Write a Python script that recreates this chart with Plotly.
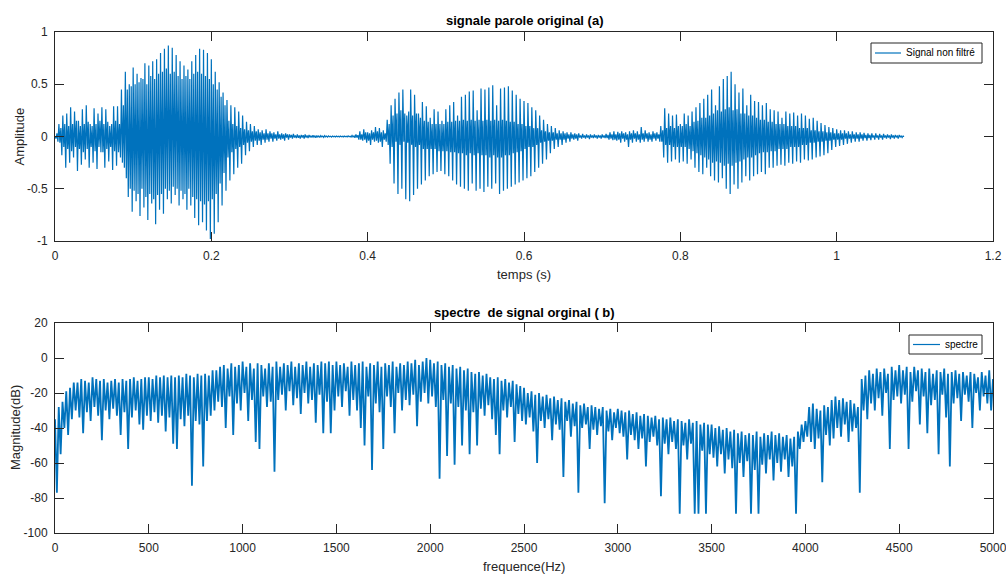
import numpy as np
import plotly.graph_objects as go

# ---------------- speech waveform (amplitude samples, 800 samples/s) ----------------
fs_wave = 800

vowel1 = [0.0, -0.02, 0.03, -0.05, 0.12, -0.06, 0.08, -0.18, 0.2, -0.1, 0.12, -0.3,
          0.22, -0.12, 0.1, -0.25, 0.28, -0.14, 0.12, -0.2, 0.24, -0.1, 0.15, -0.33,
          0.15, -0.12, 0.1, -0.27, 0.26, -0.15, 0.12, -0.22, 0.3, -0.12, 0.14, -0.3,
          0.12, -0.1, 0.1, -0.25, 0.27, -0.14, 0.12, -0.31, 0.22, -0.1, 0.15, -0.15,
          0.28, -0.15, 0.12, -0.3, 0.26, -0.12, 0.14, -0.24, 0.1, -0.1, 0.12, -0.32,
          0.29, -0.14, 0.15, -0.28, 0.29, -0.15, 0.12, -0.2]
vowel1_loud = [0.45, -0.25, 0.3, -0.3, 0.62, -0.4, 0.45, -0.58, 0.5, -0.5, 0.48, -0.72,
               0.66, -0.52, 0.5, -0.62, 0.6, -0.55, 0.52, -0.76, 0.56, -0.5, 0.55, -0.68,
               0.7, -0.58, 0.5, -0.8, 0.68, -0.55, 0.58, -0.64, 0.72, -0.6, 0.55, -0.84,
               0.74, -0.56, 0.6, -0.7, 0.8, -0.55, 0.62, -0.74, 0.84, -0.5, 0.65, -0.6,
               0.87, -0.52, 0.6, -0.64, 0.85, -0.48, 0.62, -0.56, 0.78, -0.5, 0.58, -0.66,
               0.72, -0.52, 0.55, -0.6, 0.68, -0.55, 0.58, -0.7, 0.64, -0.5, 0.55, -0.66,
               0.72, -0.58, 0.6, -0.78, 0.78, -0.6, 0.62, -0.85, 0.84, -0.62, 0.6, -0.82,
               0.83, -0.65, 0.58, -0.9, 0.8, -0.62, 0.55, -0.98, 0.74, -0.6, 0.5, -0.93,
               0.62, -0.55, 0.45, -0.82, 0.52, -0.45, 0.38, -0.66, 0.42, -0.35, 0.3, -0.52]
decay1 = [0.35, -0.2, 0.15, -0.42, 0.3, -0.15, 0.12, -0.36, 0.28, -0.12, 0.1, -0.3,
          0.24, -0.1, 0.08, -0.26, 0.2, -0.08, 0.07, -0.18, 0.14, -0.06, 0.06, -0.14,
          0.12, -0.05, 0.05, -0.1, 0.1, -0.04, 0.05, -0.08, 0.07, -0.04, 0.04, -0.08,
          0.06, -0.03, 0.03, -0.06, 0.07, -0.03, 0.03, -0.05, 0.05, -0.02, 0.03, -0.05,
          0.04, -0.02, 0.02, -0.04, 0.05, -0.02, 0.02, -0.03, 0.03, -0.02, 0.02, -0.04,
          0.03, -0.01, 0.02, -0.03]
silence = [0.02, -0.01, 0.015, -0.02, 0.025, -0.01, 0.01, -0.015, 0.02, -0.012, 0.01, -0.02,
           0.015, -0.01, 0.012, -0.02, 0.02, -0.01, 0.01, -0.015, 0.015, -0.008, 0.008, -0.01,
           0.012, -0.006, 0.006, -0.012, 0.01, -0.005, 0.005, -0.01, 0.008, -0.004, 0.004, -0.008,
           0.008, -0.004, 0.004, -0.006, 0.006, -0.003, 0.003, -0.006, 0.005, -0.003, 0.003, -0.005,
           0.005, -0.002, 0.002, -0.004, 0.004, -0.002, 0.002, -0.005, 0.005, -0.002, 0.002, -0.004,
           0.006, -0.003, 0.003, -0.005, 0.01, -0.005, 0.006, -0.012, 0.02, -0.01, 0.012, -0.03]
burst = [0.05, -0.03, 0.02, -0.04, 0.07, -0.03, 0.04, -0.06, 0.04, -0.04, 0.03, -0.08,
         0.06, -0.03, 0.04, -0.05, 0.09, -0.04, 0.05, -0.06, 0.08, -0.05, 0.04, -0.1,
         0.06, -0.03, 0.03, -0.05]
vowel2 = [0.16, -0.08, 0.12, -0.26, 0.3, -0.1, 0.2, -0.45, 0.36, -0.05, 0.22, -0.55,
          0.42, -0.08, 0.25, -0.5, 0.45, -0.05, 0.22, -0.6, 0.2, -0.06, 0.24, -0.62,
          0.45, -0.08, 0.2, -0.56, 0.4, -0.1, 0.22, -0.5, 0.22, -0.08, 0.18, -0.46,
          0.33, -0.12, 0.15, -0.42, 0.29, -0.12, 0.14, -0.38, 0.18, -0.12, 0.12, -0.36,
          0.26, -0.12, 0.12, -0.34, 0.24, -0.14, 0.12, -0.33, 0.15, -0.14, 0.12, -0.36,
          0.26, -0.14, 0.14, -0.38, 0.3, -0.15, 0.14, -0.42, 0.33, -0.15, 0.15, -0.46,
          0.2, -0.16, 0.15, -0.48, 0.38, -0.16, 0.16, -0.5, 0.4, -0.18, 0.15, -0.52,
          0.43, -0.16, 0.16, -0.45, 0.44, -0.18, 0.15, -0.52, 0.25, -0.16, 0.16, -0.5,
          0.46, -0.18, 0.15, -0.53, 0.45, -0.18, 0.16, -0.48, 0.47, -0.2, 0.15, -0.5,
          0.49, -0.18, 0.16, -0.45, 0.3, -0.2, 0.15, -0.55, 0.46, -0.2, 0.16, -0.52,
          0.47, -0.18, 0.15, -0.5, 0.48, -0.18, 0.14, -0.48, 0.44, -0.16, 0.14, -0.46,
          0.4, -0.15, 0.12, -0.44, 0.36, -0.14, 0.12, -0.42, 0.34, -0.12, 0.1, -0.4,
          0.32, -0.1, 0.1, -0.38, 0.28, -0.1, 0.08, -0.34, 0.25, -0.08, 0.08, -0.3,
          0.2, -0.06, 0.06, -0.26, 0.16, -0.05, 0.05, -0.22, 0.12, -0.04, 0.04, -0.16,
          0.1, -0.04, 0.04, -0.12, 0.08, -0.03, 0.03, -0.1, 0.06, -0.03, 0.03, -0.08]
pause2 = [0.05, -0.03, 0.03, -0.06, 0.04, -0.02, 0.02, -0.05, 0.04, -0.02, 0.02, -0.03,
          0.03, -0.02, 0.02, -0.04, 0.03, -0.01, 0.01, -0.02, 0.025, -0.01, 0.01, -0.02,
          0.02, -0.01, 0.01, -0.025, 0.02, -0.01, 0.01, -0.015, 0.02, -0.01, 0.01, -0.02,
          0.015, -0.01, 0.01, -0.02, 0.02, -0.01, 0.01, -0.015, 0.025, -0.015, 0.015, -0.03,
          0.04, -0.02, 0.02, -0.035, 0.05, -0.03, 0.02, -0.04, 0.045, -0.03, 0.03, -0.06,
          0.05, -0.02, 0.03, -0.05, 0.04, -0.03, 0.02, -0.1, 0.05, -0.03, 0.03, -0.06,
          0.06, -0.02, 0.03, -0.05, 0.05, -0.03, 0.02, -0.06, 0.09, -0.03, 0.03, -0.05,
          0.06, -0.02, 0.03, -0.05, 0.04, -0.03, 0.02, -0.05, 0.05, -0.02, 0.03, -0.04,
          0.04, -0.02, 0.02, -0.05]
vowel3 = [0.1, -0.05, 0.06, -0.2, 0.27, -0.08, 0.08, -0.25, 0.22, -0.08, 0.1, -0.24,
          0.2, -0.1, 0.08, -0.22, 0.21, -0.1, 0.1, -0.25, 0.12, -0.1, 0.1, -0.24,
          0.22, -0.1, 0.12, -0.26, 0.2, -0.12, 0.1, -0.22, 0.24, -0.14, 0.14, -0.3,
          0.28, -0.16, 0.15, -0.34, 0.32, -0.18, 0.18, -0.36, 0.36, -0.2, 0.18, -0.3,
          0.4, -0.22, 0.2, -0.38, 0.45, -0.25, 0.22, -0.42, 0.3, -0.24, 0.25, -0.44,
          0.48, -0.25, 0.24, -0.4, 0.55, -0.28, 0.26, -0.5, 0.58, -0.26, 0.28, -0.55,
          0.62, -0.28, 0.25, -0.46, 0.5, -0.25, 0.26, -0.5, 0.42, -0.24, 0.22, -0.44,
          0.46, -0.22, 0.22, -0.38, 0.3, -0.2, 0.2, -0.42, 0.4, -0.2, 0.2, -0.38,
          0.34, -0.18, 0.18, -0.36, 0.33, -0.16, 0.16, -0.34, 0.3, -0.15, 0.16, -0.36,
          0.32, -0.15, 0.14, -0.3, 0.26, -0.14, 0.14, -0.3, 0.25, -0.14, 0.12, -0.28,
          0.24, -0.12, 0.12, -0.27, 0.18, -0.12, 0.12, -0.28, 0.24, -0.12, 0.1, -0.25,
          0.22, -0.1, 0.1, -0.26, 0.23, -0.1, 0.1, -0.24, 0.2, -0.1, 0.08, -0.25,
          0.22, -0.08, 0.08, -0.22, 0.2, -0.08, 0.08, -0.23, 0.17, -0.06, 0.06, -0.22,
          0.18, -0.06, 0.06, -0.2, 0.15, -0.05, 0.05, -0.19, 0.13, -0.05, 0.05, -0.18,
          0.11, -0.04, 0.04, -0.16, 0.09, -0.04, 0.04, -0.13, 0.08, -0.03, 0.03, -0.1]
tail = [0.07, -0.03, 0.03, -0.09, 0.06, -0.03, 0.03, -0.08, 0.06, -0.02, 0.03, -0.07,
        0.05, -0.02, 0.02, -0.06, 0.05, -0.02, 0.02, -0.05, 0.04, -0.02, 0.02, -0.05,
        0.04, -0.02, 0.02, -0.04, 0.035, -0.015, 0.015, -0.04, 0.03, -0.015, 0.015, -0.035,
        0.03, -0.01, 0.01, -0.03, 0.03, -0.01, 0.01, -0.03, 0.025, -0.01, 0.01, -0.03,
        0.025, -0.01, 0.01, -0.02, 0.02, -0.01, 0.01, -0.025, 0.02, -0.01, 0.01, -0.02,
        0.015, -0.005, 0.005, -0.02, 0.015, -0.005, 0.005, -0.01, 0.005, 0.0]

# ---------------- magnitude spectrum in dB (10 Hz bins, 0..5000 Hz) ----------------
df_spec = 10

band_0 = [-35, -77, -28, -55, -25, -40, -19, -44, -17, -35, -14, -30, -14, -34, -12, -43,
          -13, -31, -14, -36, -11, -28, -12, -33, -13, -47, -12, -30, -14, -35, -13, -29,
          -12, -33, -14, -44, -12, -31, -13, -52, -12, -34, -11, -30, -13, -38, -12, -41,
          -11, -33]
band_500 = [-11, -36, -12, -31, -10, -37, -11, -33, -10, -42, -11, -34, -10, -49, -11, -52,
            -10, -35, -11, -39, -9, -33, -10, -73, -11, -36, -9, -38, -10, -62, -9, -36,
            -10, -33, -7, -30, -7, -25, -5, -28, -4, -40, -6, -22, -3, -44, -5, -26,
            -4, -30]
band_1000 = [-2, -20, -5, -36, -3, -24, -6, -48, -3, -52, -4, -22, -6, -28, -3, -25,
             -5, -65, -2, -24, -5, -21, -3, -30, -4, -19, -2, -27, -5, -23, -3, -32,
             -4, -20, -2, -26, -5, -24, -3, -37, -4, -21, -2, -43, -3, -25, -2, -43,
             -4, -30]
band_1500 = [-2, -22, -4, -28, -3, -19, -5, -33, -2, -24, -4, -30, -3, -40, -2, -50,
             -5, -22, -3, -64, -4, -26, -2, -31, -5, -52, -3, -22, -4, -28, -2, -43,
             -5, -20, -3, -30, -4, -24, -2, -27, -3, -21, -1, -39, -4, -25, -2, -20,
             0, -26]
band_2000 = [-1, -22, -3, -28, -2, -69, -4, -24, -3, -56, -5, -26, -4, -61, -6, -28,
             -5, -50, -7, -30, -6, -55, -8, -31, -9, -50, -8, -29, -10, -33, -9, -27,
             -11, -35, -12, -44, -11, -55, -13, -30, -12, -34, -14, -28, -13, -48, -15, -32,
             -16, -36]
band_2500 = [-17, -38, -20, -34, -19, -42, -21, -60, -20, -36, -22, -40, -21, -35, -23, -47,
             -22, -38, -24, -41, -23, -68, -25, -36, -24, -45, -26, -39, -25, -77, -27, -40,
             -26, -38, -28, -52, -27, -41, -28, -44, -29, -39, -28, -83, -30, -42, -29, -47,
             -31, -40]
band_3000 = [-29, -43, -30, -45, -31, -58, -30, -44, -32, -47, -31, -52, -33, -46, -32, -62,
             -33, -48, -34, -45, -33, -50, -35, -79, -34, -49, -35, -55, -34, -48, -36, -52,
             -35, -89, -36, -50, -37, -58, -35, -49, -37, -89, -36, -89, -38, -53, -37, -89,
             -38, -55]
band_3500 = [-38, -57, -40, -62, -39, -55, -41, -66, -40, -58, -42, -63, -41, -89, -43, -60,
             -42, -68, -44, -59, -43, -89, -44, -64, -42, -89, -45, -61, -43, -66, -44, -58,
             -42, -70, -44, -60, -43, -65, -45, -58, -44, -68, -46, -62, -45, -89, -42, -52,
             -38, -48]
band_4000 = [-36, -45, -28, -48, -26, -52, -29, -46, -30, -71, -27, -44, -28, -50, -24, -46,
             -22, -40, -24, -45, -23, -38, -25, -48, -24, -42, -26, -40, -28, -77, -12, -30,
             -10, -35, -7, -26, -9, -30, -6, -23, -8, -33, -6, -20, -9, -52, -5, -24,
             -7, -22]
band_4500 = [-4, -26, -7, -21, -5, -52, -8, -25, -5, -19, -7, -38, -6, -22, -8, -43,
             -6, -27, -9, -24, -7, -55, -8, -21, -6, -34, -9, -62, -8, -26, -7, -23,
             -9, -36, -8, -21, -10, -25, -8, -40, -9, -20, -11, -30, -8, -22, -10, -26,
             -7, -30, -12]

# ---------------- axis ticks ----------------
time_ticks = [0, 0.2, 0.4, 0.6, 0.8, 1, 1.2]
time_labels = ["0", "0.2", "0.4", "0.6", "0.8", "1", "1.2"]
amp_ticks = [-1, -0.5, 0, 0.5, 1]
amp_labels = ["-1", "-0.5", "0", "0.5", "1"]
freq_ticks = [0, 500, 1000, 1500, 2000, 2500, 3000, 3500, 4000, 4500, 5000]
freq_labels = [str(v) for v in freq_ticks]
db_ticks = [-100, -80, -60, -40, -20, 0, 20]
db_labels = ["-100", "-80", "-60", "-40", "-20", "0", "20"]

# ---------------- assemble series ----------------
signal = np.array(vowel1 + vowel1_loud + decay1 + silence + burst + vowel2 + pause2 + vowel3 + tail)
t = np.arange(signal.size) / fs_wave

spectrum = np.array(band_0 + band_500 + band_1000 + band_1500 + band_2000 + band_2500
                    + band_3000 + band_3500 + band_4000 + band_4500, dtype=float)
freq = np.arange(spectrum.size) * df_spec

W, H = 1006, 575
FONT = "Liberation Sans, Arial, Helvetica, sans-serif"
AX = "#262626"
BLUE = "#0072BD"

def px(x):
    return x / W

def py(y):
    return (H - y) / H

fig = go.Figure()
fig.add_trace(go.Scatter(x=t, y=signal, mode="lines", name="Signal non filtré",
                         line=dict(color=BLUE, width=1.2), xaxis="x", yaxis="y"))
fig.add_trace(go.Scatter(x=freq, y=spectrum, mode="lines", name="spectre",
                         line=dict(color=BLUE, width=1.8), xaxis="x2", yaxis="y2"))

axis_style = dict(showline=True, linecolor=AX, linewidth=1, mirror="ticks",
                  ticks="inside", ticklen=9, tickwidth=1, tickcolor=AX,
                  showgrid=False, zeroline=False, automargin=False,
                  ticklabeloverflow="allow", ticklabelstandoff=4,
                  tickfont=dict(family=FONT, size=12, color=AX))

dom_x = [px(55), px(993)]
fig.update_layout(
    width=W, height=H,
    margin=dict(l=0, r=0, t=0, b=0),
    paper_bgcolor="white", plot_bgcolor="white",
    font=dict(family=FONT, color=AX),
    showlegend=False,
    xaxis=dict(domain=dom_x, range=[0, 1.2], tickvals=time_ticks, ticktext=time_labels,
               anchor="y", **axis_style),
    yaxis=dict(domain=[py(241), py(32)], range=[-1, 1], tickvals=amp_ticks,
               ticktext=amp_labels, anchor="x", **axis_style),
    xaxis2=dict(domain=dom_x, range=[0, 5000], tickvals=freq_ticks, ticktext=freq_labels,
                anchor="y2", **axis_style),
    yaxis2=dict(domain=[py(533), py(323)], range=[-100, 20], tickvals=db_ticks,
                ticktext=db_labels, anchor="x2", **axis_style),
)

def label(text, x, y, size=13, bold=False, angle=0, color=AX, anchor="center"):
    fig.add_annotation(text=f"<b>{text}</b>" if bold else text,
                       x=px(x), y=py(y), xref="paper", yref="paper",
                       xanchor=anchor, yanchor="middle", showarrow=False,
                       textangle=angle, font=dict(family=FONT, size=size, color=color))

def legend_box(x0, x1, y0, y1, line_x0, line_x1, text):
    ym = (y0 + y1) / 2
    fig.add_shape(type="rect", xref="paper", yref="paper",
                  x0=px(x0), x1=px(x1), y0=py(y1), y1=py(y0),
                  line=dict(color=AX, width=1), fillcolor="white")
    fig.add_shape(type="line", xref="paper", yref="paper",
                  x0=px(line_x0), x1=px(line_x1), y0=py(ym), y1=py(ym),
                  line=dict(color=BLUE, width=1.2))
    label(text, line_x1 + 3, ym, size=10, color="#000000", anchor="left")

label("signale parole original (a)", 524, 20.5, size=13, bold=True, color="#000000")
label("temps (s)", 524, 274.5, size=13)
label("Amplitude", 19, 136.5, size=13, angle=-90)
label("spectre \u00a0de signal orginal ( b)", 524, 312.5, size=13, bold=True, color="#000000")
label("frequence(Hz)", 524, 566.5, size=13)
label("Magnitude(dB)", 15, 428, size=13, angle=-90)

legend_box(871, 982, 43, 63, 875, 901, "Signal non filtré")
legend_box(909, 982, 335, 354, 913, 940, "spectre")

fig.write_html("out.html")
